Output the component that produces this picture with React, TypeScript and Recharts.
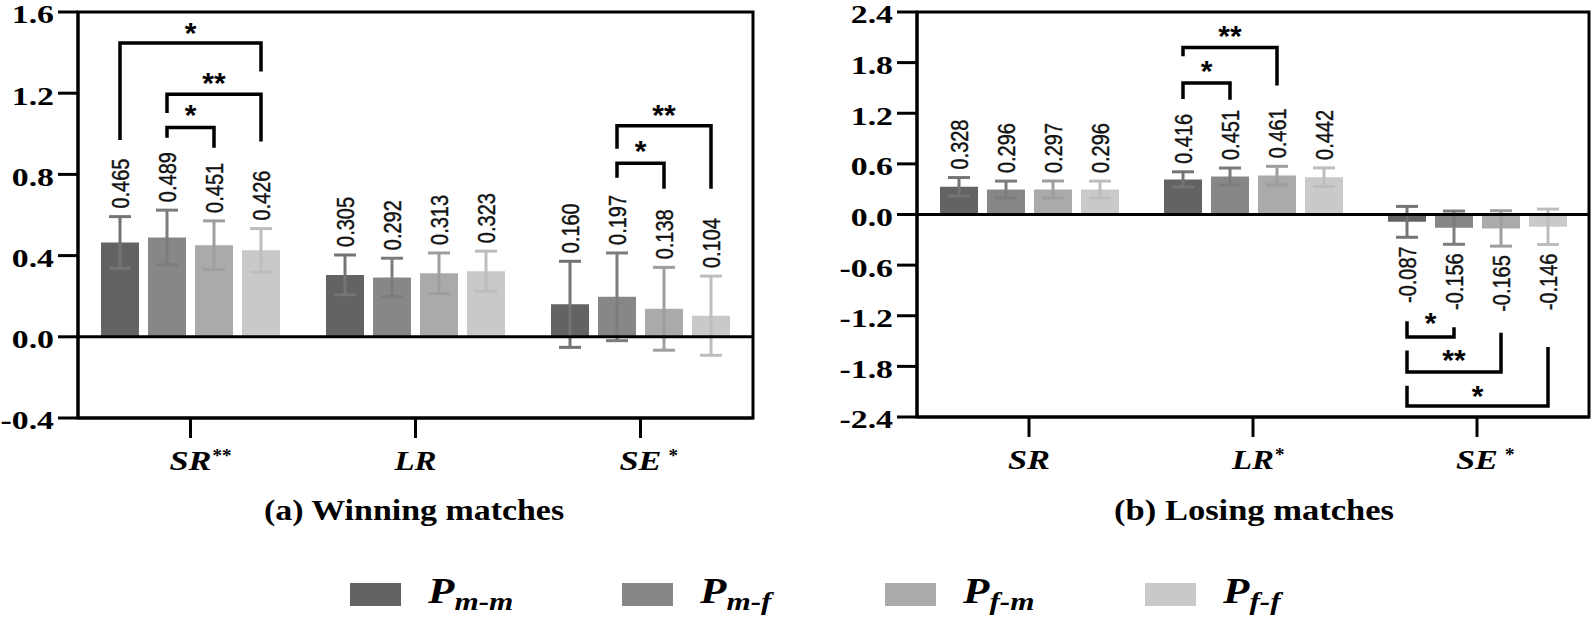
import React from 'react';
import { BarChart, Bar, XAxis, YAxis, ErrorBar, LabelList, ReferenceLine, ReferenceArea } from 'recharts';

const SERIF = '"Liberation Serif", "Times New Roman", serif';
const SANS = '"Liberation Sans", Arial, sans-serif';

const categories = ['SR', 'LR', 'SE'];
const seriesKeys = ['Pmm', 'Pmf', 'Pfm', 'Pff'];
const seriesSubs = ['m-m', 'm-f', 'f-m', 'f-f'];
const fills = ['#636363', '#878787', '#aaaaaa', '#c9c9c9'];
const errColors = ['#747474', '#7c7c7c', '#9e9e9e', '#bdbdbd'];

// (a) winning matches
const winPmm = [0.465, 0.305, 0.16];
const winPmf = [0.489, 0.292, 0.197];
const winPfm = [0.451, 0.313, 0.138];
const winPff = [0.426, 0.323, 0.104];
const winErrPmm = [0.127, 0.098, 0.212];
const winErrPmf = [0.135, 0.095, 0.216];
const winErrPfm = [0.12, 0.1, 0.204];
const winErrPff = [0.107, 0.099, 0.195];
const winStars = ['**', '', '*'];
const winTicks = [-0.4, 0, 0.4, 0.8, 1.2, 1.6];

// (b) losing matches
const losePmm = [0.328, 0.416, -0.087];
const losePmf = [0.296, 0.451, -0.156];
const losePfm = [0.297, 0.461, -0.165];
const losePff = [0.296, 0.442, -0.146];
const loseErrPmm = [0.11, 0.09, 0.183];
const loseErrPmf = [0.1, 0.1, 0.197];
const loseErrPfm = [0.1, 0.11, 0.21];
const loseErrPff = [0.1, 0.11, 0.21];
const loseStars = ['', '*', '*'];
const loseTicks = [-2.4, -1.8, -1.2, -0.6, 0, 0.6, 1.2, 1.8, 2.4];

// significance brackets: category, bar a -> bar b, bracket level, leg ends, mark and its level
const winBrackets = [
  { cat: 0, a: 0, b: 3, y: 1.447, ya: 0.97, yb: 1.307, mark: '*', my: 1.537 },
  { cat: 0, a: 1, b: 3, y: 1.195, ya: 1.103, yb: 0.962, mark: '**', my: 1.29 },
  { cat: 0, a: 1, b: 2, y: 1.031, ya: 0.98, yb: 0.931, mark: '*', my: 1.133 },
  { cat: 2, a: 1, b: 3, y: 1.04, ya: 0.926, yb: 0.729, mark: '**', my: 1.133 },
  { cat: 2, a: 1, b: 2, y: 0.855, ya: 0.783, yb: 0.729, mark: '*', my: 0.956 },
];
const loseBrackets = [
  { cat: 1, a: 0, b: 2, y: 1.98, ya: 1.876, yb: 1.53, mark: '**', my: 2.21 },
  { cat: 1, a: 0, b: 1, y: 1.56, ya: 1.37, yb: 1.36, mark: '*', my: 1.8 },
  { cat: 2, a: 0, b: 1, y: -1.453, ya: -1.264, yb: -1.335, mark: '*', my: -1.195 },
  { cat: 2, a: 0, b: 2, y: -1.868, ya: -1.611, yb: -1.4, mark: '**', my: -1.63 },
  { cat: 2, a: 0, b: 3, y: -2.27, ya: -2.03, yb: -1.57, mark: '*', my: -2.06 },
];

const BAR = 38;
const GAP = 9;

function buildRows(vals: number[][], errs: number[][]) {
  return categories.map((c, i) => {
    const row: any = { cat: c };
    seriesKeys.forEach((k, j) => {
      row[k] = vals[j][i];
      row['e' + k] = errs[j][i];
    });
    return row;
  });
}

const winData = buildRows([winPmm, winPmf, winPfm, winPff], [winErrPmm, winErrPmf, winErrPfm, winErrPff]);
const loseData = buildRows([losePmm, losePmf, losePfm, losePff], [loseErrPmm, loseErrPmf, loseErrPfm, loseErrPff]);

const YTick = (props: any) => {
  const { x, y, payload } = props;
  return (
    <text
      transform={`translate(${x},${y}) scale(1.3,1)`}
      textAnchor="end"
      dy="0.44em"
      fontFamily={SERIF}
      fontWeight="bold"
      fontSize={26}
      fill="#000"
    >
      {Number(payload.value).toFixed(1)}
    </text>
  );
};

const makeXTick = (stars: string[]) => (props: any) => {
  const { x, y, payload } = props;
  const star = stars[categories.indexOf(payload.value)];
  const sx = payload.value === 'SE' ? 28 : 22;
  return (
    <g>
      <text
        x={x}
        y={y + 30}
        textAnchor="middle"
        fontFamily={SERIF}
        fontStyle="italic"
        fontWeight="bold"
        fontSize={27}
        textLength={42}
        lengthAdjust="spacingAndGlyphs"
        fill="#000"
      >
        {payload.value}
      </text>
      {star ? (
        <text x={x + sx} y={y + 22} fontFamily={SERIF} fontWeight="bold" fontSize={19} fill="#000">
          {star}
        </text>
      ) : null}
    </g>
  );
};

const makeLabel = (vals: number[], errs: number[]) => (props: any) => {
  const { x, y, width, height, index } = props;
  const v = vals[index];
  const h = Number(height);
  const yy = Number(y);
  const top = Math.min(yy, yy + h);
  const bottom = Math.max(yy, yy + h);
  const ppu = Math.abs(h) / Math.abs(v);
  const errPx = errs[index] * ppu;
  const cx = Number(x) + Number(width) / 2;
  const ly = v >= 0 ? top - errPx - 8 : bottom + errPx + 9;
  return (
    <text
      transform={`translate(${cx},${ly}) scale(1.19,1) rotate(-90)`}
      textAnchor={v >= 0 ? 'start' : 'end'}
      dy="0.36em"
      fontFamily={SANS}
      fontSize={20}
      fill="#111"
      stroke="#111"
      strokeWidth={0.35}
    >
      {v.toFixed(3)}
    </text>
  );
};

// brackets are drawn from the geometry of the first series' bar in each category
const makeBrackets = (list: typeof winBrackets, vals: number[]) => (props: any) => {
  const { x, y, width, height, index } = props;
  const items = list.filter((b) => b.cat === index);
  if (!items.length) return null;
  const v = vals[index];
  const h = Number(height);
  const yy = Number(y);
  const top = Math.min(yy, yy + h);
  const bottom = Math.max(yy, yy + h);
  const ppu = Math.abs(h) / Math.abs(v);
  const zero = v >= 0 ? bottom : top;
  const py = (d: number) => zero - d * ppu;
  const bw = Number(width);
  const bx = (j: number) => Number(x) + bw / 2 + j * (bw + GAP);
  return (
    <g>
      {items.map((b, i) => {
        const xa = bx(b.a);
        const xb = bx(b.b);
        return (
          <g key={i}>
            <path
              d={`M${xa},${py(b.ya)} L${xa},${py(b.y)} L${xb},${py(b.y)} L${xb},${py(b.yb)}`}
              fill="none"
              stroke="#000"
              strokeWidth={3.5}
              strokeLinejoin="miter"
            />
            <text
              x={(xa + xb) / 2}
              y={py(b.my)}
              dy="0.6em"
              textAnchor="middle"
              fontFamily={SANS}
              fontWeight="bold"
              fontSize={30}
              fill="#000"
            >
              {b.mark}
            </text>
          </g>
        );
      })}
    </g>
  );
};

interface PanelProps {
  data: any[];
  vals: number[][];
  errs: number[][];
  ticks: number[];
  stars: string[];
  brackets: typeof winBrackets;
  width: number;
  margin: { top: number; right: number; bottom: number; left: number };
}

function Panel({ data, vals, errs, ticks, stars, brackets, width, margin }: PanelProps) {
  const lo = ticks[0];
  const hi = ticks[ticks.length - 1];
  return (
    <BarChart width={width} height={480} data={data} margin={margin} barSize={BAR} barGap={GAP}>
      <XAxis
        dataKey="cat"
        height={50}
        axisLine={{ stroke: '#000', strokeWidth: 3 }}
        tickLine={{ stroke: '#000', strokeWidth: 3 }}
        tickSize={20}
        tick={makeXTick(stars)}
        interval={0}
      />
      <YAxis
        width={70}
        domain={[lo, hi]}
        ticks={ticks}
        allowDataOverflow
        interval={0}
        axisLine={{ stroke: '#000', strokeWidth: 3 }}
        tickLine={{ stroke: '#000', strokeWidth: 3 }}
        tickSize={20}
        tickMargin={4}
        tick={YTick}
      />
      <ReferenceArea y1={lo} y2={hi} fill="none" fillOpacity={0} stroke="#000" strokeWidth={3} />
      {seriesKeys.map((k, j) => (
        <Bar key={k} dataKey={k} fill={fills[j]} isAnimationActive={false}>
          <ErrorBar dataKey={'e' + k} width={11} strokeWidth={3} stroke={errColors[j]} direction="y" isAnimationActive={false} />
          <LabelList dataKey={k} content={makeLabel(vals[j], errs[j])} />
          {j === 0 ? <LabelList dataKey={k} content={makeBrackets(brackets, vals[0])} /> : null}
        </Bar>
      ))}
      <ReferenceLine y={0} stroke="#000" strokeWidth={3} />
    </BarChart>
  );
}

const legendX = [350, 622, 885, 1145];

export default function App() {
  return (
    <div style={{ position: 'absolute', left: 0, top: 0, width: 1594, height: 617, background: '#fff', overflow: 'hidden' }}>
      <div style={{ position: 'absolute', left: 0, top: 0 }}>
        <Panel
          data={winData}
          vals={[winPmm, winPmf, winPfm, winPff]}
          errs={[winErrPmm, winErrPmf, winErrPfm, winErrPff]}
          ticks={winTicks}
          stars={winStars}
          brackets={winBrackets}
          width={760}
          margin={{ top: 12, right: 7, bottom: 12, left: 8 }}
        />
      </div>
      <div style={{ position: 'absolute', left: 760, top: 0 }}>
        <Panel
          data={loseData}
          vals={[losePmm, losePmf, losePfm, losePff]}
          errs={[loseErrPmm, loseErrPmf, loseErrPfm, loseErrPff]}
          ticks={loseTicks}
          stars={loseStars}
          brackets={loseBrackets}
          width={834}
          margin={{ top: 12, right: 5, bottom: 13, left: 87 }}
        />
      </div>
      <svg width={1594} height={617} style={{ position: 'absolute', left: 0, top: 0, pointerEvents: 'none' }}>
        <text transform="translate(414,520) scale(1.17,1)" textAnchor="middle" fontFamily={SERIF} fontWeight="bold" fontSize={29} fill="#000">
          (a) Winning matches
        </text>
        <text transform="translate(1254,520) scale(1.19,1)" textAnchor="middle" fontFamily={SERIF} fontWeight="bold" fontSize={29} fill="#000">
          (b) Losing matches
        </text>
        {seriesSubs.map((s, j) => (
          <g key={s}>
            <rect x={legendX[j]} y={583} width={51} height={23} fill={fills[j]} />
            <text transform={`translate(${legendX[j] + 78},603) scale(1.2,1)`} fontFamily={SERIF} fontStyle="italic" fontWeight="bold" fontSize={36} fill="#000">
              P
              <tspan dx={0} dy={7} fontSize={26}>
                {s}
              </tspan>
            </text>
          </g>
        ))}
      </svg>
    </div>
  );
}
